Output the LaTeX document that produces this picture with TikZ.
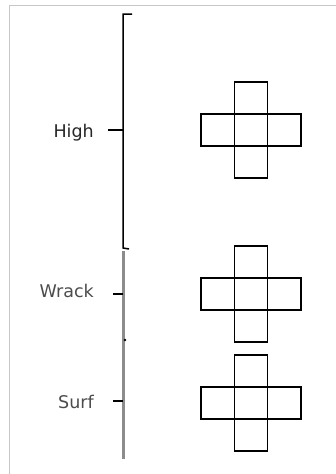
\documentclass[tikz,border=0pt]{standalone}
\usepackage{fontspec}
\setmainfont{DejaVu Sans}
\begin{document}
\begin{tikzpicture}[x=1pt,y=-1pt,
  lbl/.style={anchor=base east,inner sep=0pt,font=\fontsize{17.5}{20}\selectfont},
  hbar/.style={draw=black,line width=1.6pt,minimum width=100pt,minimum height=32pt,inner sep=0pt},
  vbar/.style={draw=black,line width=1.6pt,minimum width=33pt,minimum height=96pt,inner sep=0pt},
  blk/.style={draw=black,line width=1.5pt},
  gry/.style={draw=black!45,line width=3pt},
  frame/.style={draw=black!22,line width=1pt}]
\useasboundingbox (0,0) rectangle (336,474);
\draw[frame] (9,474) -- (9,5) -- (336,5);
% axis
\coordinate (t0) at (132,14);
\coordinate (t1) at (123,14);
\coordinate (t2) at (123,248);
\coordinate (t3) at (129,249);
\draw[blk] (t0) -- (t1) -- (t2) -- (t3);
\coordinate (g0) at (123,251);
\coordinate (g1) at (123,459);
\draw[gry] (g0) -- (g1);
\fill[black] (125,340) circle (1.4);
% labels and ticks
\node[lbl,text=black!85] (high) at (94,137) {High};
\node[lbl,text=black!70] (wrack) at (94,297) {Wrack};
\node[lbl,text=black!70] (surf) at (94,408) {Surf};
\coordinate (hA) at (108,130); \coordinate (hB) at (123,130);
\coordinate (wA) at (113,294); \coordinate (wB) at (123,294);
\coordinate (sA) at (113,401); \coordinate (sB) at (123,401);
\draw[blk] (hA) -- (hB);
\draw[blk] (wA) -- (wB);
\draw[blk] (sA) -- (sB);
% crosses
\node[hbar] (h1) at (251,130) {};
\node[vbar] (v1) at (251,130) {};
\node[hbar] (h2) at (251,294) {};
\node[vbar] (v2) at (251,294) {};
\node[hbar] (h3) at (251,403) {};
\node[vbar] (v3) at (251,403) {};
\end{tikzpicture}
\end{document}
